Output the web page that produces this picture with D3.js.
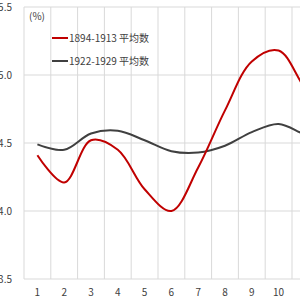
<!DOCTYPE html>
<html>
<head>
<meta charset="utf-8">
<script src="https://cdn.jsdelivr.net/npm/d3@7"></script>
<style>
  html, body { margin: 0; padding: 0; background: #fff; }
  svg { display: block; font-family: "Noto Sans CJK SC", "Liberation Sans", sans-serif; }
</style>
</head>
<body>
<div id="chart"></div>
<script>
"use strict";

var months = [1, 2, 3, 4, 5, 6, 7, 8, 9, 10, 11, 12];
var seriesNames = ["1894-1913 平均数", "1922-1929 平均数"];
var early = [4.41, 4.21, 4.52, 4.45, 4.16, 4.00, 4.32, 4.74, 5.10, 5.18, 4.90, 4.70];
var late  = [4.49, 4.45, 4.57, 4.59, 4.52, 4.44, 4.43, 4.48, 4.58, 4.64, 4.56, 4.50];
var yTicks = [3.5, 4.0, 4.5, 5.0, 5.5];
var colors = ["#c00000", "#404040"];

var width = 300, height = 300;
var margin = {top: 7, left: 24, bottom: 21};
var step = 26.8;

var svg = d3.select("#chart").append("svg")
    .attr("width", width)
    .attr("height", height);

// scales
var x = d3.scaleBand()
    .domain(months)
    .range([margin.left, margin.left + step * months.length]);
var y = d3.scaleLinear()
    .domain([3.5, 5.5])
    .range([height - margin.bottom, margin.top]);

// horizontal grid
svg.append("g").selectAll("line")
    .data(yTicks)
  .enter().append("line")
    .attr("x1", margin.left)
    .attr("x2", width)
    .attr("y1", function(d) { return y(d); })
    .attr("y2", function(d) { return y(d); })
    .attr("stroke", "#d9d9d9")
    .attr("stroke-width", 1);

// vertical grid at category boundaries
svg.append("g").selectAll("line")
    .data(months)
  .enter().append("line")
    .attr("x1", function(d) { return x(d); })
    .attr("x2", function(d) { return x(d); })
    .attr("y1", y(5.5))
    .attr("y2", y(3.5))
    .attr("stroke", "#d9d9d9")
    .attr("stroke-width", 1);

// y labels
svg.append("g").selectAll("text")
    .data(yTicks)
  .enter().append("text")
    .attr("x", 12)
    .attr("y", function(d) { return y(d) + 3.5; })
    .attr("text-anchor", "end")
    .attr("font-size", 10)
    .attr("fill", "#404040")
    .text(function(d) { return d.toFixed(1); });

// x labels
svg.append("g").selectAll("text")
    .data(months)
  .enter().append("text")
    .attr("x", function(d) { return x(d) + x.bandwidth() / 2; })
    .attr("y", 296)
    .attr("text-anchor", "middle")
    .attr("font-size", 10)
    .attr("fill", "#404040")
    .text(function(d) { return d; });

// lines
var line = d3.line()
    .x(function(d, i) { return x(months[i]) + x.bandwidth() / 2; })
    .y(function(d) { return y(d); })
    .curve(d3.curveCatmullRom.alpha(0.5));

[late, early].forEach(function(vals, k) {
  svg.append("path")
      .datum(vals)
      .attr("fill", "none")
      .attr("stroke", colors[1 - k])
      .attr("stroke-width", 2)
      .attr("d", line);
});

// unit label
svg.append("text")
    .attr("x", 29)
    .attr("y", 20)
    .attr("font-size", 10)
    .attr("fill", "#404040")
    .text("(%)");

// legend
var legend = svg.append("g").selectAll("g")
    .data(seriesNames)
  .enter().append("g")
    .attr("transform", function(d, i) { return "translate(52," + (38 + i * 23) + ")"; });
legend.append("line")
    .attr("x1", 0)
    .attr("x2", 16)
    .attr("stroke", function(d, i) { return colors[i]; })
    .attr("stroke-width", 2);
legend.append("text")
    .attr("x", 17)
    .attr("y", 4)
    .attr("font-size", 10)
    .attr("fill", "#404040")
    .text(function(d) { return d; });
</script>
</body>
</html>
